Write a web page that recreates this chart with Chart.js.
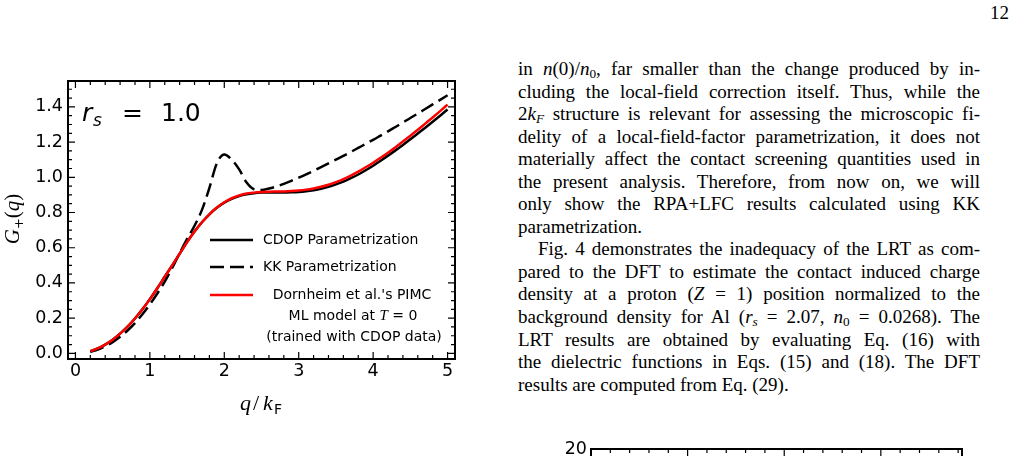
<!DOCTYPE html>
<html>
<head>
<meta charset="utf-8">
<script src="https://cdn.jsdelivr.net/npm/chart.js@4.4.0/dist/chart.umd.min.js"></script>
<style>
body { margin: 0; width: 1016px; height: 456px; overflow: hidden; background: #fff; position: relative; }
#g { position: absolute; left: 0; top: 0; }
#g2 { position: absolute; left: 540px; top: 420px; }
#txt { position: absolute; left: 518px; top: 58px; width: 462px; font-family: "Liberation Serif", serif; font-size: 19px; line-height: 22.55px; color: #000; }
#txt .ln { white-space: nowrap; height: 22.55px; }
#txt .ln span { display: inline-block; }
#txt .ind { padding-left: 20px; }
#txt sub { font-size: 70%; vertical-align: -3px; line-height: 0; }
#pg { position: absolute; left: 990px; top: 2px; font-family: "Liberation Serif", serif; font-size: 19px; line-height: 22px; }
</style>
</head>
<body>
<div id="pg">12</div>
<canvas id="g" width="470" height="456"></canvas>
<canvas id="g2" width="440" height="300"></canvas>
<div id="txt">
<div class="ln j"><span>in <i>n</i>(0)/<i>n</i><sub>0</sub>, far smaller than the change produced by in-</span></div>
<div class="ln j"><span>cluding the local-field correction itself. Thus, while the</span></div>
<div class="ln j"><span>2<i>k</i><sub><i>F</i></sub> structure is relevant for assessing the microscopic fi-</span></div>
<div class="ln j"><span>delity of a local-field-factor parametrization, it does not</span></div>
<div class="ln j"><span>materially affect the contact screening quantities used in</span></div>
<div class="ln j"><span>the present analysis. Therefore, from now on, we will</span></div>
<div class="ln j"><span>only show the RPA+LFC results calculated using KK</span></div>
<div class="ln"><span>parametrization.</span></div>
<div class="ln j ind"><span>Fig. 4 demonstrates the inadequacy of the LRT as com-</span></div>
<div class="ln j"><span>pared to the DFT to estimate the contact induced charge</span></div>
<div class="ln j"><span>density at a proton (<i>Z</i> = 1) position normalized to the</span></div>
<div class="ln j"><span>background density for Al (<i>r</i><sub><i>s</i></sub> = 2.07, <i>n</i><sub>0</sub> = 0.0268). The</span></div>
<div class="ln j"><span>LRT results are obtained by evaluating Eq. (16) with</span></div>
<div class="ln j"><span>the dielectric functions in Eqs. (15) and (18). The DFT</span></div>
<div class="ln"><span>results are computed from Eq. (29).</span></div>
</div>
<script>
// q / k_F grid and the three curves
var q = [0.2, 0.3, 0.4, 0.5, 0.6, 0.7, 0.8, 0.9, 1.0, 1.1, 1.2, 1.3, 1.4, 1.5, 1.6, 1.7, 1.8, 1.9, 2.0, 2.1,
    2.2, 2.3, 2.4, 2.5, 2.6, 2.7, 2.8, 2.9, 3.0, 3.1, 3.2, 3.3, 3.4, 3.5, 3.6, 3.7, 3.8, 3.9, 4.0, 4.1,
    4.2, 4.3, 4.4, 4.5, 4.6, 4.7, 4.8, 4.9, 5.0];
var cdop = [0.012, 0.028, 0.05, 0.078, 0.112, 0.152, 0.198, 0.25, 0.308, 0.37, 0.435, 0.5, 0.566, 0.632, 0.692, 0.745, 0.79, 0.827, 0.856, 0.878,
    0.894, 0.904, 0.91, 0.913, 0.914, 0.914, 0.914, 0.915, 0.917, 0.921, 0.927, 0.935, 0.946, 0.96, 0.976, 0.995, 1.016, 1.04, 1.066, 1.094,
    1.123, 1.153, 1.184, 1.216, 1.249, 1.282, 1.316, 1.35, 1.385];
var kk = [0.008, 0.022, 0.04, 0.064, 0.094, 0.13, 0.172, 0.222, 0.278, 0.34, 0.408, 0.485, 0.568, 0.65, 0.725, 0.815, 0.94, 1.08, 1.13, 1.1,
    1.045, 0.97, 0.932, 0.928, 0.936, 0.948, 0.963, 0.98, 0.998, 1.017, 1.037, 1.058, 1.079, 1.1, 1.122, 1.144, 1.167, 1.19, 1.213, 1.237,
    1.261, 1.286, 1.311, 1.337, 1.362, 1.388, 1.414, 1.44, 1.466];
var pimc = [0.012, 0.028, 0.05, 0.078, 0.112, 0.152, 0.198, 0.25, 0.308, 0.37, 0.435, 0.5, 0.566, 0.632, 0.692, 0.745, 0.79, 0.828, 0.858, 0.881,
    0.897, 0.908, 0.913, 0.916, 0.918, 0.919, 0.92, 0.922, 0.925, 0.93, 0.937, 0.946, 0.958, 0.973, 0.99, 1.01, 1.032, 1.057, 1.083, 1.111,
    1.14, 1.171, 1.203, 1.236, 1.27, 1.305, 1.34, 1.376, 1.413];

var xTicks = [0, 1, 2, 3, 4, 5];
var yTicks = [0.0, 0.2, 0.4, 0.6, 0.8, 1.0, 1.2, 1.4];
var legendLabels = ["CDOP Parametrization", "KK Parametrization", "Dornheim et al.'s PIMC"];

function pts(ys) {
    return q.map(function (v, i) { return { x: v, y: ys[i] }; });
}

// frame with inward ticks on all four sides, like the matplotlib original
function drawFrame(chart, xMaj, xMinStep, yMaj, yMinStep, sides) {
    var ctx = chart.ctx, a = chart.chartArea, sx = chart.scales.x, sy = chart.scales.y;
    ctx.save();
    ctx.strokeStyle = '#000';
    ctx.lineWidth = 1.2;
    ctx.beginPath();
    var x0 = Math.ceil(sx.min / xMinStep - 1e-6);
    for (var k = x0; k * xMinStep <= sx.max + 1e-9; k++) {
        var xv = k * xMinStep;
        var major = xMaj.some(function (m) { return Math.abs(m - xv) < 1e-6; });
        var px = sx.getPixelForValue(xv);
        var len = major ? 7 : 4;
        if (sides.bottom) { ctx.moveTo(px, a.bottom); ctx.lineTo(px, a.bottom - len); }
        if (sides.top) { ctx.moveTo(px, a.top); ctx.lineTo(px, a.top + len); }
    }
    var y0 = Math.ceil(sy.min / yMinStep - 1e-6);
    for (var j = y0; j * yMinStep <= sy.max + 1e-9; j++) {
        var yv = j * yMinStep;
        var majorY = yMaj.some(function (m) { return Math.abs(m - yv) < 1e-6; });
        var py = sy.getPixelForValue(yv);
        var leny = majorY ? 7 : 4;
        if (sides.left) { ctx.moveTo(a.left, py); ctx.lineTo(a.left + leny, py); }
        if (sides.right) { ctx.moveTo(a.right, py); ctx.lineTo(a.right - leny, py); }
    }
    ctx.stroke();
    ctx.lineWidth = 2;
    ctx.strokeRect(a.left, a.top, a.right - a.left, a.bottom - a.top);
    ctx.restore();
}

var decor = {
    id: 'decor',
    afterDatasetsDraw: function (chart) {
        drawFrame(chart, xTicks, 0.2, yTicks, 0.05, { top: true, bottom: true, left: true, right: true });
        var ctx = chart.ctx;
        ctx.save();
        ctx.fillStyle = '#000';
        ctx.textBaseline = 'alphabetic';
        // r_s = 1.0
        ctx.font = 'italic 25px "DejaVu Sans"';
        ctx.fillText('r', 82, 121);
        ctx.font = 'italic 17px "DejaVu Sans"';
        ctx.fillText('s', 93, 126);
        ctx.font = '25px "DejaVu Sans"';
        ctx.fillText('=', 122, 121);
        ctx.fillText('1.0', 161, 121);

        // legend
        var lx0 = 210, lx1 = 253, tx = 263;
        ctx.lineWidth = 2.5;
        ctx.strokeStyle = '#000';
        ctx.beginPath(); ctx.moveTo(lx0, 240); ctx.lineTo(lx1, 240); ctx.stroke();
        ctx.setLineDash([14, 6]);
        ctx.beginPath(); ctx.moveTo(lx0, 267); ctx.lineTo(lx1, 267); ctx.stroke();
        ctx.setLineDash([]);
        ctx.strokeStyle = '#ff0000';
        ctx.beginPath(); ctx.moveTo(lx0, 295); ctx.lineTo(lx1, 295); ctx.stroke();
        ctx.font = '14px "DejaVu Sans"';
        ctx.textBaseline = 'middle';
        ctx.textAlign = 'left';
        ctx.fillText(legendLabels[0], tx, 240);
        ctx.fillText(legendLabels[1], tx, 267);
        ctx.textAlign = 'center';
        ctx.fillText(legendLabels[2], 352, 295);
        ctx.fillText('(trained with CDOP data)', 354, 337.5);
        // "ML model at T = 0" with italic T
        ctx.textAlign = 'left';
        var p1 = 'ML model at ', p2 = 'T', p3 = ' = 0';
        ctx.font = '14px "DejaVu Sans"';
        var w1 = ctx.measureText(p1).width, w3 = ctx.measureText(p3).width;
        ctx.font = 'italic 15px "Liberation Serif"';
        var w2 = ctx.measureText(p2).width;
        var sx = 353 - (w1 + w2 + w3) / 2;
        ctx.font = '14px "DejaVu Sans"';
        ctx.fillText(p1, sx, 316.5);
        ctx.font = 'italic 15px "Liberation Serif"';
        ctx.fillText(p2, sx + w1, 316.5);
        ctx.font = '14px "DejaVu Sans"';
        ctx.fillText(p3, sx + w1 + w2, 316.5);

        // x label  q / k_F
        ctx.textBaseline = 'alphabetic';
        ctx.font = 'italic 22px "Liberation Serif"';
        ctx.fillText('q', 240, 410);
        ctx.font = '22px "Liberation Serif"';
        ctx.fillText('/', 253, 410);
        ctx.font = 'italic 22px "Liberation Serif"';
        ctx.fillText('k', 263, 410);
        ctx.font = '14px "DejaVu Sans"';
        ctx.fillText('F', 274, 414);

        // y label  G+(q), rotated
        ctx.translate(19, 219);
        ctx.rotate(-Math.PI / 2);
        var parts = [['G', 'italic 21px "Liberation Serif"', 0], ['+', '13px "DejaVu Sans"', 4],
            ['(', '21px "Liberation Serif"', 0], ['q', 'italic 21px "Liberation Serif"', 0], [')', '21px "Liberation Serif"', 0]];
        var tot = 0;
        parts.forEach(function (p) { ctx.font = p[1]; tot += ctx.measureText(p[0]).width; });
        var cx = -tot / 2;
        parts.forEach(function (p) {
            ctx.font = p[1];
            ctx.fillText(p[0], cx, p[2]);
            cx += ctx.measureText(p[0]).width;
        });
        ctx.restore();
    }
};

var tickFont = { family: 'DejaVu Sans', size: 17.5 };

new Chart(document.getElementById('g'), {
    type: 'line',
    data: {
        datasets: [{
            label: legendLabels[2],
            data: pts(pimc),
            borderColor: '#ff0000',
            borderWidth: 2.5,
            order: 0
        }, {
            label: legendLabels[0],
            data: pts(cdop),
            borderColor: '#000000',
            borderWidth: 2.5,
            order: 1
        }, {
            label: legendLabels[1],
            data: pts(kk),
            borderColor: '#000000',
            borderWidth: 2.5,
            borderDash: [14, 6],
            order: 2
        }]
    },
    options: {
        responsive: false,
        animation: false,
        devicePixelRatio: 1,
        elements: { point: { radius: 0 }, line: { cubicInterpolationMode: 'monotone' } },
        layout: { padding: { left: 0, right: 15, top: 81, bottom: 67 } },
        plugins: { legend: { display: false }, tooltip: { enabled: false } },
        scales: {
            x: {
                type: 'linear',
                min: -0.1,
                max: 5.1,
                grid: { display: false, drawTicks: false },
                border: { display: false },
                afterFit: function (s) { s.height = 30; },
                afterBuildTicks: function (s) { s.ticks = xTicks.map(function (v) { return { value: v }; }); },
                ticks: { color: '#000', font: tickFont, padding: 2, maxRotation: 0,
                    callback: function (v) { return String(v); } }
            },
            y: {
                type: 'linear',
                min: -0.032,
                max: 1.547,
                grid: { display: false, drawTicks: false },
                border: { display: false },
                afterFit: function (s) { s.width = 68; },
                afterBuildTicks: function (s) { s.ticks = yTicks.map(function (v) { return { value: v }; }); },
                ticks: { color: '#000', font: tickFont, padding: 5,
                    callback: function (v) { return v.toFixed(1); } }
            }
        }
    },
    plugins: [decor]
});

// second figure, only its top edge shows at the page bottom
var x2Ticks = [0, 0.5, 1.0, 1.5];
var y2Ticks = [0, 5, 10, 15, 20];

new Chart(document.getElementById('g2'), {
    type: 'line',
    data: { datasets: [] },
    options: {
        responsive: false,
        animation: false,
        devicePixelRatio: 1,
        layout: { padding: { left: 0, right: 18, top: 29, bottom: 30 } },
        plugins: { legend: { display: false }, tooltip: { enabled: false } },
        scales: {
            x: {
                type: 'linear', min: 0, max: 1.92, display: true,
                grid: { display: false, drawTicks: false },
                border: { display: false },
                ticks: { display: false }
            },
            y: {
                type: 'linear', min: 0, max: 20,
                grid: { display: false, drawTicks: false },
                border: { display: false },
                afterFit: function (s) { s.width = 51; },
                afterBuildTicks: function (s) { s.ticks = y2Ticks.map(function (v) { return { value: v }; }); },
                ticks: { color: '#000', font: tickFont, padding: 4 }
            }
        }
    },
    plugins: [{
        id: 'frame2',
        afterDatasetsDraw: function (chart) {
            drawFrame(chart, x2Ticks, 0.1, y2Ticks, 1, { top: true, bottom: true, left: true, right: true });
        }
    }]
});

// justify each text line to the column width
document.querySelectorAll('#txt .j').forEach(function (el) {
    var sp = el.firstElementChild;
    var full = 462 - (el.classList.contains('ind') ? 20 : 0);
    var w = sp.getBoundingClientRect().width;
    var n = (sp.textContent.match(/ /g) || []).length;
    if (n > 0) sp.style.wordSpacing = ((full - w) / n) + 'px';
});
</script>
</body>
</html>
